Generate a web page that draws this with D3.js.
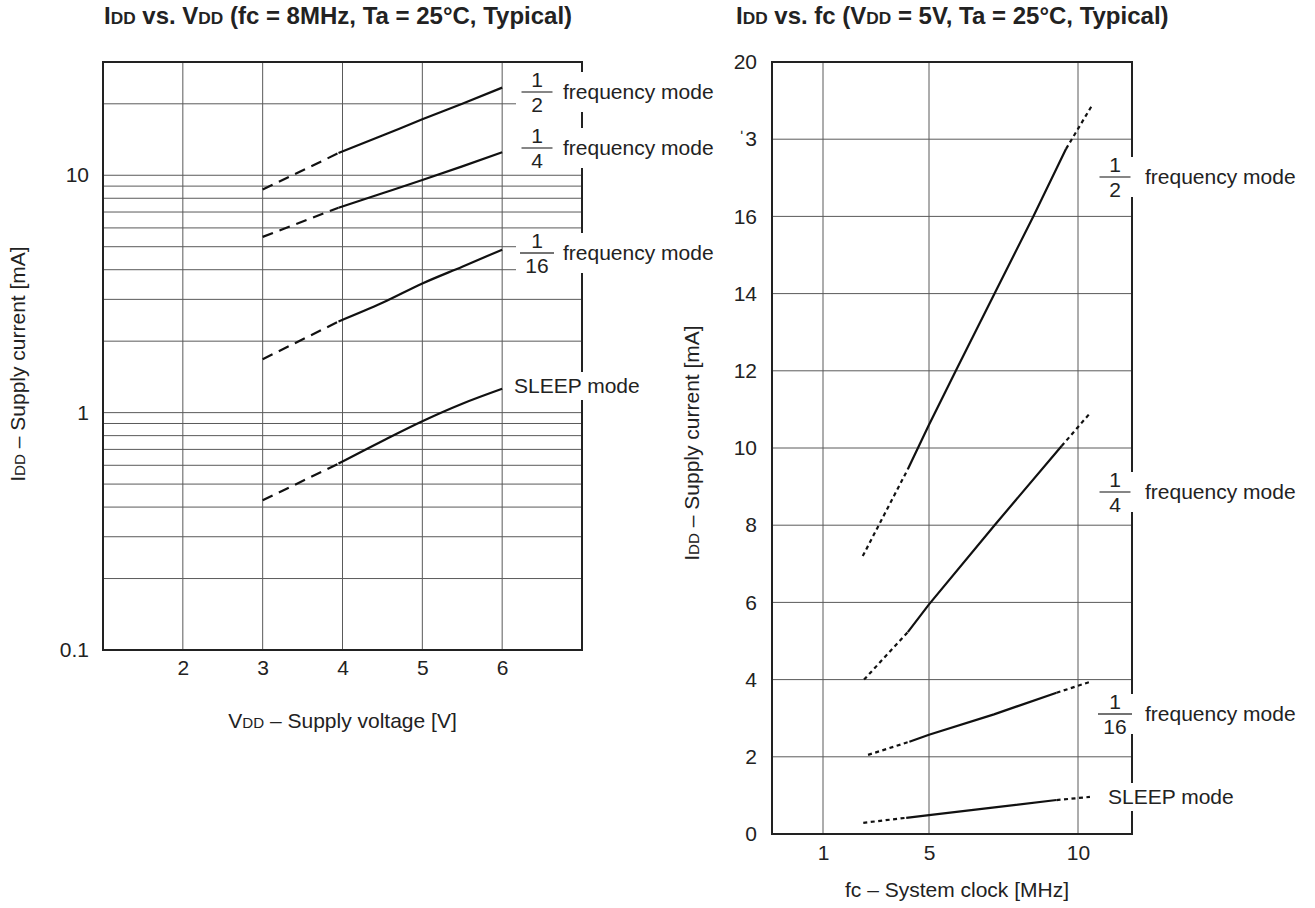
<!DOCTYPE html>
<html>
<head>
<meta charset="utf-8">
<script src="https://cdn.jsdelivr.net/npm/d3@7/dist/d3.min.js"></script>
<style>
    body { margin: 0; background: #fff; }
    text { font-family: "Liberation Sans", Arial, Helvetica, sans-serif; fill: #222; }
    .title { font-size: 24px; font-weight: bold; }
    .axis text, .axisLabel, .modeLabel { font-size: 21px; }
    .grid line { stroke: #5a5a5a; stroke-width: 1; }
    .frame { fill: none; stroke: #222; stroke-width: 2; }
    .curve { fill: none; stroke: #111; stroke-width: 2.2; }
    .fracLine { stroke: #444; stroke-width: 1.3; }
</style>
</head>
<body>
<script>
//---- left chart: IDD vs VDD, fc = 8MHz (values in mA, log axis) ----
var vddSteps = [3, 3.95, 4.5, 5, 5.5, 6];
var vddHalf = [8.7, 12.4, 14.7, 17.2, 20.0, 23.4];
var vddQuarter = [5.5, 7.3, 8.4, 9.55, 10.9, 12.5];
var vddSixteenth = [1.68, 2.42, 2.9, 3.5, 4.12, 4.86];
var vddSleep = [0.427, 0.61, 0.76, 0.92, 1.09, 1.26];

var vddTicks = [2, 3, 4, 5, 6];
var vddTickLabels = ["2", "3", "4", "5", "6"];
var currentLogTicks = [0.1, 1, 10];
var currentLogLabels = ["0.1", "1", "10"];
var currentLogGrid = [0.2, 0.3, 0.4, 0.5, 0.6, 0.7, 0.8, 0.9, 1, 2, 3, 4, 5, 6, 7, 8, 9, 10, 20];

//---- right chart: IDD vs fc, VDD = 5V (values in mA) ----
var fcHalfX = [2.5, 4.2, 5, 5.9, 7.2, 8.5, 9.6, 10.45];
var fcHalfY = [7.2, 9.45, 10.6, 12, 14, 16, 17.75, 18.85];
var fcQuarterX = [2.55, 4.2, 5, 7.2, 9.45, 10.4];
var fcQuarterY = [4.0, 5.23, 5.95, 8.0, 10.05, 10.9];
var fcSixteenthX = [2.7, 4.26, 5, 7.18, 9.28, 10.4];
var fcSixteenthY = [2.05, 2.39, 2.57, 3.1, 3.66, 3.94];
var fcSleepX = [2.52, 4.14, 5, 7.2, 9.28, 10.4];
var fcSleepY = [0.29, 0.42, 0.49, 0.69, 0.88, 0.96];

var fcTicks = [1, 5, 10];
var fcTickLabels = ["1", "5", "10"];
var currentTicks = [0, 2, 4, 6, 8, 10, 12, 14, 16, 18, 20];
var currentTickLabels = ["0", "2", "4", "6", "8", "10", "12", "14", "16", "\u02C83", "20"];

//mode names, drawn as fraction + text
var modeFractions = [["1", "2"], ["1", "4"], ["1", "16"]];
var sleepName = "SLEEP mode";

function init() {
    var svg, left, right, xL, yL, xR, yR;

    //dimensions of both plot boxes
    const leftBox = { x: 103, y: 62, w: 479, h: 588 };
    const rightBox = { x: 772, y: 62, w: 360, h: 772 };

    svg = d3.select("body")
        .append("svg")
        .attr("width", 1315)
        .attr("height", 908);

    //text with the small "DD" subscript-like caps
    function richText(sel, parts) {
        parts.forEach(function (p) {
            sel.append("tspan")
                .attr("font-size", p[1] ? "0.72em" : null)
                .text(p[0]);
        });
        return sel;
    }

    //titles
    richText(svg.append("text").attr("class", "title").attr("x", 104).attr("y", 24),
        [["I", 0], ["DD", 1], [" vs. V", 0], ["DD", 1], [" (fc = 8MHz, Ta = 25\u00B0C, Typical)", 0]]);
    richText(svg.append("text").attr("class", "title").attr("x", 736).attr("y", 24),
        [["I", 0], ["DD", 1], [" vs. fc (V", 0], ["DD", 1], [" = 5V, Ta = 25\u00B0C, Typical)", 0]]);

    //================= left chart =================
    left = svg.append("g")
        .attr("transform", "translate(" + leftBox.x + "," + leftBox.y + ")");

    xL = d3.scaleLinear().domain([1, 7]).range([0, leftBox.w]);
    yL = d3.scaleLog().domain([0.1, 30]).range([leftBox.h, 0]);

    //grid
    var gridL = left.append("g").attr("class", "grid");
    gridL.selectAll("line.v").data(vddTicks).join("line")
        .attr("class", "v")
        .attr("x1", function (d) { return xL(d); })
        .attr("x2", function (d) { return xL(d); })
        .attr("y1", 0).attr("y2", leftBox.h);
    gridL.selectAll("line.h").data(currentLogGrid).join("line")
        .attr("class", "h")
        .attr("x1", 0).attr("x2", leftBox.w)
        .attr("y1", function (d) { return yL(d); })
        .attr("y2", function (d) { return yL(d); });

    left.append("rect").attr("class", "frame")
        .attr("width", leftBox.w).attr("height", leftBox.h);

    //axes (labels only)
    left.append("g")
        .attr("class", "axis")
        .call(d3.axisLeft(yL).tickValues(currentLogTicks)
            .tickFormat(function (d, i) { return currentLogLabels[i]; })
            .tickSize(0).tickPadding(14))
        .call(function (g) { g.select(".domain").remove(); });

    left.append("g")
        .attr("class", "axis")
        .attr("transform", "translate(0," + leftBox.h + ")")
        .call(d3.axisBottom(xL).tickValues(vddTicks)
            .tickFormat(function (d, i) { return vddTickLabels[i]; })
            .tickSize(0).tickPadding(10))
        .call(function (g) { g.select(".domain").remove(); });

    //axis titles
    richText(left.append("text").attr("class", "axisLabel")
        .attr("text-anchor", "middle")
        .attr("x", xL(4)).attr("y", leftBox.h + 78),
        [["V", 0], ["DD", 1], [" \u2013 Supply voltage [V]", 0]]);

    richText(svg.append("text").attr("class", "axisLabel")
        .attr("text-anchor", "middle")
        .attr("transform", "translate(25,364) rotate(-90)"),
        [["I", 0], ["DD", 1], [" \u2013 Supply current [mA]", 0]]);

    //curves: first segment dashed (not guaranteed), the rest solid
    var lineL = d3.line()
        .x(function (d) { return xL(d[0]); })
        .y(function (d) { return yL(d[1]); })
        .curve(d3.curveMonotoneX);

    [vddHalf, vddQuarter, vddSixteenth, vddSleep].forEach(function (vals) {
        var pts = d3.zip(vddSteps, vals);
        left.append("path")
            .datum(pts.slice(0, 2))
            .attr("class", "curve")
            .attr("stroke-dasharray", "11,7")
            .attr("d", lineL);
        left.append("path")
            .datum(pts.slice(1))
            .attr("class", "curve")
            .attr("d", lineL);
    });

    //================= right chart =================
    right = svg.append("g")
        .attr("transform", "translate(" + rightBox.x + "," + rightBox.y + ")");

    //the printed fc axis is not evenly spaced, so use a piecewise scale
    xR = d3.scaleLinear().domain(fcTicks).range([51, 157, 306]);
    yR = d3.scaleLinear().domain([0, 20]).range([rightBox.h, 0]);

    var gridR = right.append("g").attr("class", "grid");
    gridR.selectAll("line.v").data(fcTicks).join("line")
        .attr("class", "v")
        .attr("x1", function (d) { return xR(d); })
        .attr("x2", function (d) { return xR(d); })
        .attr("y1", 0).attr("y2", rightBox.h);
    gridR.selectAll("line.h").data(currentTicks.slice(1, -1)).join("line")
        .attr("class", "h")
        .attr("x1", 0).attr("x2", rightBox.w)
        .attr("y1", function (d) { return yR(d); })
        .attr("y2", function (d) { return yR(d); });

    right.append("rect").attr("class", "frame")
        .attr("width", rightBox.w).attr("height", rightBox.h);

    right.append("g")
        .attr("class", "axis")
        .call(d3.axisLeft(yR).tickValues(currentTicks)
            .tickFormat(function (d, i) { return currentTickLabels[i]; })
            .tickSize(0).tickPadding(15))
        .call(function (g) { g.select(".domain").remove(); });

    right.append("g")
        .attr("class", "axis")
        .attr("transform", "translate(0," + rightBox.h + ")")
        .call(d3.axisBottom(xR).tickValues(fcTicks)
            .tickFormat(function (d, i) { return fcTickLabels[i]; })
            .tickSize(0).tickPadding(11))
        .call(function (g) { g.select(".domain").remove(); });

    right.append("text").attr("class", "axisLabel")
        .attr("text-anchor", "middle")
        .attr("x", 185).attr("y", rightBox.h + 63)
        .text("fc \u2013 System clock [MHz]");

    richText(svg.append("text").attr("class", "axisLabel")
        .attr("text-anchor", "middle")
        .attr("transform", "translate(699,443) rotate(-90)"),
        [["I", 0], ["DD", 1], [" \u2013 Supply current [mA]", 0]]);

    //curves: dotted at both ends, solid in the middle
    var lineR = d3.line()
        .x(function (d) { return xR(d[0]); })
        .y(function (d) { return yR(d[1]); });

    [[fcHalfX, fcHalfY], [fcQuarterX, fcQuarterY], [fcSixteenthX, fcSixteenthY], [fcSleepX, fcSleepY]]
        .forEach(function (s) {
            var pts = d3.zip(s[0], s[1]);
            var n = pts.length;
            right.append("path").datum(pts.slice(0, 2))
                .attr("class", "curve").attr("stroke-dasharray", "4,3.5").attr("d", lineR);
            right.append("path").datum(pts.slice(1, n - 1))
                .attr("class", "curve").attr("stroke-width", 2).attr("d", lineR);
            right.append("path").datum(pts.slice(n - 2))
                .attr("class", "curve").attr("stroke-dasharray", "4,3.5").attr("d", lineR);
        });

    //================= mode labels =================
    //white patch behind each label hides grid and frame like the original
    function fractionLabel(g, frac, cx, tx, y) {
        g.append("rect")
            .attr("x", cx - 21).attr("y", y - 20)
            .attr("width", tx - cx + 180).attr("height", 40)
            .attr("fill", "#fff");
        var half = frac[1].length > 1 ? 17 : 15.5;
        g.append("line").attr("class", "fracLine")
            .attr("x1", cx - half).attr("x2", cx + half)
            .attr("y1", y).attr("y2", y);
        g.append("text").attr("class", "modeLabel").attr("text-anchor", "middle")
            .attr("x", cx).attr("y", y - 5).text(frac[0]);
        g.append("text").attr("class", "modeLabel").attr("text-anchor", "middle")
            .attr("x", cx).attr("y", y + 20).text(frac[1]);
        g.append("text").attr("class", "modeLabel")
            .attr("x", tx).attr("y", y + 7).text("frequency mode");
    }

    function sleepLabel(g, sx, y) {
        g.append("rect")
            .attr("x", sx - 5).attr("y", y - 14)
            .attr("width", 140).attr("height", 28)
            .attr("fill", "#fff");
        g.append("text").attr("class", "modeLabel")
            .attr("x", sx).attr("y", y + 7).text(sleepName);
    }

    //left chart labels (offsets from plot box)
    var leftLabelY = [30, 86, 191];
    modeFractions.forEach(function (f, i) {
        fractionLabel(left, f, leftBox.w - 45, leftBox.w - 19, leftLabelY[i]);
    });
    sleepLabel(left, leftBox.w - 68, 324);

    //right chart labels
    var rightLabelY = [115, 430, 652];
    modeFractions.forEach(function (f, i) {
        fractionLabel(right, f, rightBox.w - 17, rightBox.w + 13, rightLabelY[i]);
    });
    sleepLabel(right, rightBox.w - 24, 735);
}

window.onload = init;
</script>
</body>
</html>
